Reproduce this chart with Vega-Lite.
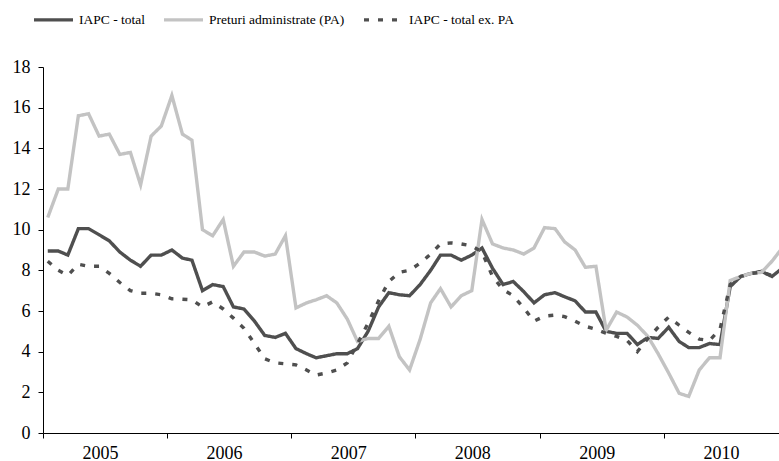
{
  "$schema": "https://vega.github.io/schema/vega-lite/v6.json",
  "autosize": {"type": "none"},
  "width": 736,
  "height": 366,
  "padding": {"left": 43, "top": 67, "right": 0, "bottom": 28},
  "background": "white",
  "config": {"view": {"stroke": null}, "font": "Liberation Serif"},
  "data": {"values": [
    {"date":"2005-01-15","total":8.95,"pa":10.6,"expa":8.45},
    {"date":"2005-02-15","total":8.95,"pa":12.0,"expa":8.0},
    {"date":"2005-03-15","total":8.75,"pa":12.0,"expa":7.75},
    {"date":"2005-04-15","total":10.05,"pa":15.6,"expa":8.3},
    {"date":"2005-05-15","total":10.05,"pa":15.7,"expa":8.2},
    {"date":"2005-06-15","total":9.75,"pa":14.6,"expa":8.2},
    {"date":"2005-07-15","total":9.45,"pa":14.7,"expa":7.85},
    {"date":"2005-08-15","total":8.9,"pa":13.7,"expa":7.4},
    {"date":"2005-09-15","total":8.5,"pa":13.8,"expa":7.0},
    {"date":"2005-10-15","total":8.2,"pa":12.2,"expa":6.87},
    {"date":"2005-11-15","total":8.75,"pa":14.6,"expa":6.87},
    {"date":"2005-12-15","total":8.75,"pa":15.1,"expa":6.8},
    {"date":"2006-01-15","total":9.0,"pa":16.6,"expa":6.6},
    {"date":"2006-02-15","total":8.6,"pa":14.7,"expa":6.58},
    {"date":"2006-03-15","total":8.5,"pa":14.4,"expa":6.55},
    {"date":"2006-04-15","total":7.0,"pa":10.0,"expa":6.2},
    {"date":"2006-05-15","total":7.3,"pa":9.7,"expa":6.45},
    {"date":"2006-06-15","total":7.2,"pa":10.5,"expa":6.1},
    {"date":"2006-07-15","total":6.2,"pa":8.2,"expa":5.65},
    {"date":"2006-08-15","total":6.1,"pa":8.9,"expa":5.15},
    {"date":"2006-09-15","total":5.5,"pa":8.9,"expa":4.4},
    {"date":"2006-10-15","total":4.8,"pa":8.7,"expa":3.65},
    {"date":"2006-11-15","total":4.7,"pa":8.8,"expa":3.45},
    {"date":"2006-12-15","total":4.9,"pa":9.7,"expa":3.4},
    {"date":"2007-01-15","total":4.15,"pa":6.15,"expa":3.35},
    {"date":"2007-02-15","total":3.9,"pa":6.4,"expa":3.1},
    {"date":"2007-03-15","total":3.7,"pa":6.55,"expa":2.85},
    {"date":"2007-04-15","total":3.8,"pa":6.75,"expa":2.95},
    {"date":"2007-05-15","total":3.9,"pa":6.4,"expa":3.1},
    {"date":"2007-06-15","total":3.9,"pa":5.6,"expa":3.45},
    {"date":"2007-07-15","total":4.15,"pa":4.5,"expa":4.4},
    {"date":"2007-08-15","total":5.0,"pa":4.65,"expa":5.4},
    {"date":"2007-09-15","total":6.2,"pa":4.65,"expa":6.5},
    {"date":"2007-10-15","total":6.9,"pa":5.25,"expa":7.45},
    {"date":"2007-11-15","total":6.8,"pa":3.75,"expa":7.9},
    {"date":"2007-12-15","total":6.75,"pa":3.1,"expa":8.0},
    {"date":"2008-01-15","total":7.3,"pa":4.6,"expa":8.35},
    {"date":"2008-02-15","total":8.0,"pa":6.4,"expa":8.8},
    {"date":"2008-03-15","total":8.75,"pa":7.1,"expa":9.3},
    {"date":"2008-04-15","total":8.75,"pa":6.2,"expa":9.35},
    {"date":"2008-05-15","total":8.5,"pa":6.75,"expa":9.3},
    {"date":"2008-06-15","total":8.75,"pa":7.0,"expa":9.2},
    {"date":"2008-07-15","total":9.1,"pa":10.5,"expa":8.9},
    {"date":"2008-08-15","total":8.1,"pa":9.3,"expa":7.7},
    {"date":"2008-09-15","total":7.3,"pa":9.1,"expa":7.05},
    {"date":"2008-10-15","total":7.45,"pa":9.0,"expa":6.75},
    {"date":"2008-11-15","total":6.95,"pa":8.8,"expa":6.15},
    {"date":"2008-12-15","total":6.4,"pa":9.1,"expa":5.5},
    {"date":"2009-01-15","total":6.8,"pa":10.1,"expa":5.75},
    {"date":"2009-02-15","total":6.9,"pa":10.05,"expa":5.8},
    {"date":"2009-03-15","total":6.7,"pa":9.4,"expa":5.72},
    {"date":"2009-04-15","total":6.5,"pa":9.0,"expa":5.5},
    {"date":"2009-05-15","total":5.95,"pa":8.15,"expa":5.25},
    {"date":"2009-06-15","total":5.95,"pa":8.2,"expa":5.1},
    {"date":"2009-07-15","total":5.0,"pa":5.05,"expa":4.9},
    {"date":"2009-08-15","total":4.9,"pa":5.95,"expa":4.75},
    {"date":"2009-09-15","total":4.9,"pa":5.7,"expa":4.55},
    {"date":"2009-10-15","total":4.35,"pa":5.3,"expa":4.0},
    {"date":"2009-11-15","total":4.7,"pa":4.75,"expa":4.65},
    {"date":"2009-12-15","total":4.65,"pa":3.9,"expa":5.2},
    {"date":"2010-01-15","total":5.2,"pa":2.95,"expa":5.7},
    {"date":"2010-02-15","total":4.5,"pa":1.95,"expa":5.3},
    {"date":"2010-03-15","total":4.2,"pa":1.8,"expa":4.95},
    {"date":"2010-04-15","total":4.2,"pa":3.1,"expa":4.62},
    {"date":"2010-05-15","total":4.4,"pa":3.7,"expa":4.55},
    {"date":"2010-06-15","total":4.35,"pa":3.7,"expa":5.1},
    {"date":"2010-07-15","total":7.2,"pa":7.5,"expa":7.3},
    {"date":"2010-08-15","total":7.7,"pa":7.7,"expa":7.7},
    {"date":"2010-09-15","total":7.85,"pa":7.85,"expa":7.85},
    {"date":"2010-10-15","total":7.95,"pa":7.9,"expa":7.9},
    {"date":"2010-11-15","total":7.7,"pa":8.45,"expa":7.75},
    {"date":"2010-12-15","total":8.1,"pa":9.1,"expa":null}
  ]},
  "transform": [
    {"fold": ["total", "pa", "expa"], "as": ["series", "value"]},
    {"filter": "isValid(datum.value)"}
  ],
  "mark": {"type": "line", "clip": true, "strokeWidth": 3.4},
  "encoding": {
    "x": {
      "field": "date",
      "type": "temporal",
      "scale": {
        "type": "utc",
        "domain": [
          {"year": 2005, "month": 1, "date": 1, "utc": true},
          {"year": 2010, "month": 12, "date": 5, "hours": 12, "utc": true}
        ]
      },
      "axis": {
        "title": null,
        "grid": false,
        "values": [
          {"year": 2005, "month": 1, "date": 1, "utc": true},
          {"year": 2006, "month": 1, "date": 1, "utc": true},
          {"year": 2007, "month": 1, "date": 1, "utc": true},
          {"year": 2008, "month": 1, "date": 1, "utc": true},
          {"year": 2009, "month": 1, "date": 1, "utc": true},
          {"year": 2010, "month": 1, "date": 1, "utc": true}
        ],
        "labelExpr": "utcFormat(datum.value, '%Y')",
        "labelOffset": 57,
        "labelFlush": false,
        "labelOverlap": false,
        "labelBound": false,
        "labelFont": "Liberation Serif",
        "labelFontSize": 18,
        "labelColor": "#000000",
        "labelPadding": 6,
        "tickSize": 5,
        "tickColor": "#000000",
        "domainColor": "#000000"
      }
    },
    "y": {
      "field": "value",
      "type": "quantitative",
      "scale": {"domain": [0, 18], "nice": false, "zero": true},
      "axis": {
        "title": null,
        "grid": false,
        "values": [0, 2, 4, 6, 8, 10, 12, 14, 16, 18],
        "labelFont": "Liberation Serif",
        "labelFontSize": 18,
        "labelColor": "#000000",
        "labelPadding": 8,
        "tickSize": 5,
        "tickColor": "#000000",
        "domainColor": "#000000"
      }
    },
    "color": {
      "field": "series",
      "type": "nominal",
      "scale": {"domain": ["total", "pa", "expa"], "range": ["#4f4f4f", "#c3c3c3", "#4f4f4f"]},
      "legend": {
        "title": null,
        "orient": "none",
        "direction": "horizontal",
        "legendX": -11,
        "legendY": -69,
        "symbolType": "stroke",
        "symbolSize": 1521,
        "symbolStrokeWidth": 3.4,
        "labelOffset": 4,
        "columnPadding": 12,
        "labelFont": "Liberation Serif",
        "labelFontSize": 13.5,
        "labelColor": "#000000",
        "labelExpr": "datum.label == 'total' ? 'IAPC - total' : datum.label == 'pa' ? 'Preturi administrate (PA)' : 'IAPC - total ex. PA'"
      }
    },
    "strokeDash": {
      "field": "series",
      "type": "nominal",
      "scale": {"domain": ["total", "pa", "expa"], "range": [[1, 0], [1, 0], [5, 9]]},
      "legend": {
        "title": null,
        "orient": "none",
        "direction": "horizontal",
        "legendX": -11,
        "legendY": -69,
        "symbolType": "stroke",
        "symbolSize": 1521,
        "symbolStrokeWidth": 3.4,
        "labelOffset": 4,
        "columnPadding": 12,
        "labelFont": "Liberation Serif",
        "labelFontSize": 13.5,
        "labelColor": "#000000",
        "labelExpr": "datum.label == 'total' ? 'IAPC - total' : datum.label == 'pa' ? 'Preturi administrate (PA)' : 'IAPC - total ex. PA'"
      }
    }
  }
}
